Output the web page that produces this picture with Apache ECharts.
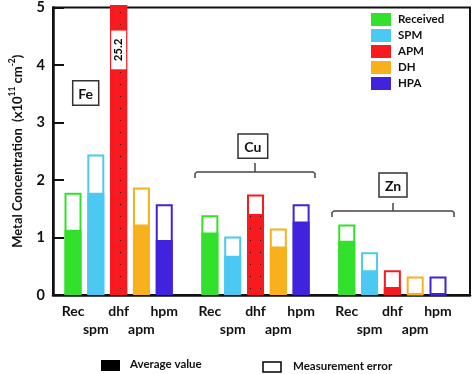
<!DOCTYPE html>
<html>
<head>
<meta charset="utf-8">
<script src="https://cdn.jsdelivr.net/npm/echarts@6/dist/echarts.min.js"></script>
<style>
  html, body { margin: 0; padding: 0; background: #fff; }
  #chart { width: 472px; height: 374px; }
</style>
</head>
<body>
<div id="chart"></div>
<script>
// category slots: 3 elements x 5 treatments, with an empty slot between groups
const categories = ['Rec', 'spm', 'dhf', 'apm', 'hpm', '',
                    'Rec', 'spm', 'dhf', 'apm', 'hpm', '',
                    'Rec', 'spm', 'dhf', 'apm', 'hpm'];
const seriesNames = ['Received', 'SPM', 'APM', 'DH', 'HPA'];
const seriesColors = ['#33e02c', '#4cc9f2', '#f71a1f', '#f8b01c', '#4122dd'];
const elementNames = ['Fe', 'Cu', 'Zn'];

// average value (filled part) and average + error (top of the box), per treatment
const feAvg = [1.13, 1.77, 25.2, 1.22, 0.95];
const feTop = [1.77, 2.43, 25.2, 1.86, 1.57];
const cuAvg = [1.08, 0.68, 1.40, 0.84, 1.27];
const cuTop = [1.38, 1.01, 1.74, 1.15, 1.57];
const znAvg = [0.94, 0.43, 0.14, 0.02, 0.01];
const znTop = [1.22, 0.74, 0.43, 0.32, 0.32];

const yTicks = [0, 1, 2, 3, 4, 5];
const offScaleLabelY = 4.24; // where the "25.2" tag sits on the clipped Fe bar

const FONT = 'Lato';
const avgGroups = [feAvg, cuAvg, znAvg];
const topGroups = [feTop, cuTop, znTop];

const dotDecal = {
  symbol: 'rect', symbolSize: 1, color: 'rgba(0,0,0,0.8)',
  dashArrayX: [1, 9], dashArrayY: [1, 11], rotation: 0
};

function spread(idx, groups, withDecal) {
  const out = categories.map(() => null);
  groups.forEach((g, gi) => {
    const v = g[idx];
    out[gi * 6 + idx] = withDecal ? { value: v, itemStyle: { decal: dotDecal } } : v;
  });
  return out;
}

const chart = echarts.init(document.getElementById('chart'));

const series = [];
seriesNames.forEach((name, i) => {
  const c = seriesColors[i];
  // measurement error box (outline up to top value)
  series.push({
    name: name + ' error', type: 'bar', xAxisIndex: 1, yAxisIndex: 1,
    data: spread(i, topGroups, false),
    barWidth: 17, barGap: '-100%', z: 2, silent: true,
    itemStyle: { color: '#fff', borderColor: c, borderWidth: 2 }
  });
});
seriesNames.forEach((name, i) => {
  const c = seriesColors[i];
  series.push({
    name: name, type: 'bar', xAxisIndex: 1, yAxisIndex: 1,
    data: spread(i, avgGroups, i === 2),
    barWidth: 17, barGap: '-100%', z: 3,
    itemStyle: { color: c, borderColor: c, borderWidth: 2 }
  });
});
// tag for the off-scale Fe value
series.push({
  type: 'scatter', xAxisIndex: 1, yAxisIndex: 1, z: 6, silent: true,
  symbolSize: 0, itemStyle: { color: '#fff', opacity: 1 },
  data: [[2, offScaleLabelY]],
  label: {
    show: true, position: 'inside', rotate: 90, opacity: 1,
    formatter: () => String(feAvg[2]),
    backgroundColor: '#ffffff', padding: [2, 8, 1, 8],
    fontFamily: FONT, fontWeight: 'bold', fontSize: 11.5, color: '#000'
  }
});

const option = {
  animation: false,
  backgroundColor: '#fff',
  grid: [
    { left: 43, right: 2, top: 6, bottom: 79, show: true, borderColor: '#111', borderWidth: 2 },
    { left: 61.6, right: 22.6, top: 6, bottom: 79 }
  ],
  legend: {
    orient: 'vertical', left: 371, top: 13, padding: 0,
    itemWidth: 18, itemHeight: 11, itemGap: 3, icon: 'rect',
    data: seriesNames,
    textStyle: { fontFamily: FONT, fontWeight: 'bold', fontSize: 11.5, color: '#111', padding: [0, 0, 0, 3] }
  },
  xAxis: [
    {
      gridIndex: 0, type: 'value', min: 0, max: 1,
      axisLine: { show: true, lineStyle: { color: '#111', width: 2.5 } },
      axisTick: { show: false }, axisLabel: { show: false }, splitLine: { show: false }
    },
    {
      gridIndex: 1, type: 'category', data: categories,
      axisLine: { show: false }, axisTick: { show: false },
      axisLabel: {
        interval: 0, margin: 7, lineHeight: 18,
        fontFamily: FONT, fontWeight: 'bold', fontSize: 14, color: '#111',
        formatter: (v) => (v === 'spm' || v === 'apm') ? '\n' + v : v
      }
    }
  ],
  yAxis: [
    {
      gridIndex: 0, type: 'value', min: yTicks[0], max: yTicks[yTicks.length - 1], interval: 1,
      axisLine: { show: true, lineStyle: { color: '#111', width: 2.5 } },
      axisTick: { show: true, inside: true, length: 11, lineStyle: { color: '#111', width: 2 } },
      axisLabel: { margin: 8, fontFamily: FONT, fontWeight: 'bold', fontSize: 14.5, color: '#111' },
      splitLine: { show: false },
      name: '{n|Metal Concentration  (x10}{sup|11}{n| cm}{sup|-2}{n|)}',
      nameLocation: 'middle', nameRotate: 90, nameGap: 29,
      nameTextStyle: {
        fontFamily: FONT, fontWeight: 'bold', fontSize: 13, color: '#111',
        rich: {
          n: { fontFamily: FONT, fontWeight: 'bold', fontSize: 13, color: '#111', lineHeight: 16, verticalAlign: 'bottom' },
          sup: { fontFamily: FONT, fontWeight: 'bold', fontSize: 8.5, color: '#111', lineHeight: 16, verticalAlign: 'top' }
        }
      }
    },
    {
      gridIndex: 1, type: 'value', min: 0, max: 5, show: false
    }
  ],
  series: series
};
chart.setOption(option);

// element tags and group brackets
const tagBoxes = [
  { x: 72.7, y: 80.7, w: 26, h: 24.6 },
  { x: 238, y: 134, w: 29.7, h: 24.3 },
  { x: 379, y: 173, w: 28, h: 24 }
];
const brackets = [
  { x1: 195, x2: 315, y: 172, mid: 255, tip: 163 },
  { x1: 332, x2: 454, y: 211, mid: 393, tip: 203 }
];
const graphics = [];
tagBoxes.forEach((b, i) => {
  graphics.push({
    type: 'rect', shape: { x: b.x, y: b.y, width: b.w, height: b.h },
    style: { fill: '#fff', stroke: '#333', lineWidth: 1.5 }, z: 10
  });
  graphics.push({
    type: 'text', x: b.x + b.w / 2, y: b.y + b.h / 2 + 1, z: 11,
    style: { text: elementNames[i], fontFamily: FONT, fontWeight: 'bold', fontSize: 14,
             fill: '#111', align: 'center', verticalAlign: 'middle' }
  });
});
brackets.forEach((b) => {
  graphics.push({
    type: 'polyline', z: 10,
    shape: { points: [[b.x1, b.y + 6], [b.x1, b.y + 1.5], [b.x1 + 2, b.y], [b.x2 - 2, b.y], [b.x2, b.y + 1.5], [b.x2, b.y + 6]] },
    style: { stroke: '#444', lineWidth: 1.5, fill: null }
  });
  graphics.push({
    type: 'line', z: 10,
    shape: { x1: b.mid, y1: b.y, x2: b.mid, y2: b.tip },
    style: { stroke: '#444', lineWidth: 1.5 }
  });
});
// key for filled / empty parts
graphics.push({ type: 'rect', shape: { x: 101, y: 360, width: 19, height: 11 }, style: { fill: '#000' } });
graphics.push({
  type: 'text', x: 130, y: 364,
  style: { text: 'Average value', fontFamily: FONT, fontWeight: 'bold', fontSize: 11.5, fill: '#111', verticalAlign: 'middle' }
});
graphics.push({ type: 'rect', shape: { x: 263, y: 362, width: 18, height: 10 }, style: { fill: '#fff', stroke: '#000', lineWidth: 1.5 } });
graphics.push({
  type: 'text', x: 293, y: 366,
  style: { text: 'Measurement error', fontFamily: FONT, fontWeight: 'bold', fontSize: 11.5, fill: '#111', verticalAlign: 'middle' }
});
chart.setOption({ graphic: graphics });
</script>
</body>
</html>
